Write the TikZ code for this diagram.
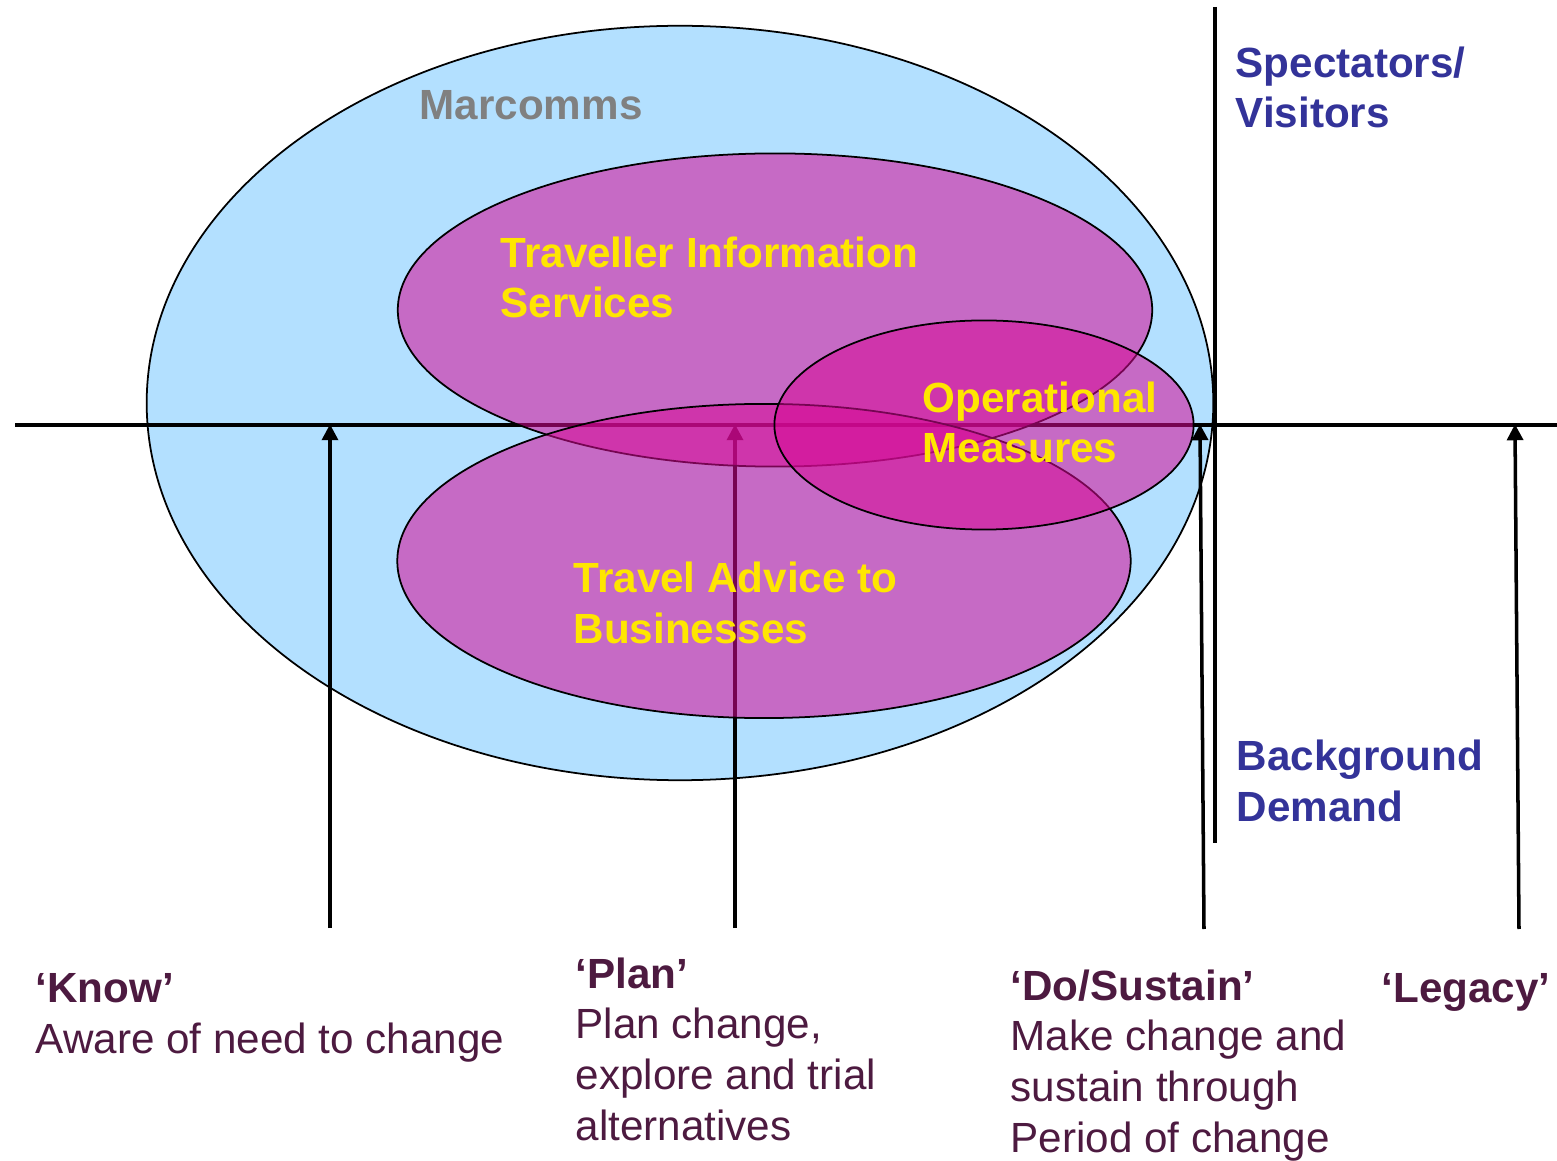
\documentclass[tikz,border=0pt]{standalone}
\usepackage{fontspec}
\setmainfont{Liberation Sans}
\usetikzlibrary{arrows.meta}

\definecolor{skyfill}{RGB}{179,224,255}
\definecolor{magfill}{RGB}{215,10,150}
\definecolor{labelyellow}{RGB}{255,230,0}
\definecolor{labelgray}{RGB}{128,128,128}
\definecolor{labelnavy}{RGB}{51,51,153}
\definecolor{labelplum}{RGB}{77,26,64}

% multi-line labels are anchored at the baseline of their last line
\tikzset{
  txt/.style={anchor=base west, inner sep=0pt, align=left,
    font=\fontsize{12}{14.4}\selectfont},
  boldtxt/.style={txt, font=\fontsize{12}{14.4}\selectfont\bfseries},
  outline/.style={draw=black, line width=0.5pt},
  group/.style={outline, fill=magfill, fill opacity=0.55},
  axis/.style={draw=black, line width=1pt},
  stage/.style={draw=black, line width=1pt,
    -{Triangle[width=0.16cm,length=0.16cm]}, shorten >=-0.5pt},
}

\begin{document}
\begin{tikzpicture}[x=0.01cm, y=-0.01cm]
\useasboundingbox (0,0) rectangle (1557,1161);

% outer Marcomms field
\path[outline, fill=skyfill] (680,403) ellipse [x radius=5.33cm, y radius=3.77cm];

% axes
\coordinate (hleft) at (15,425);
\coordinate (hright) at (1557,425);
\coordinate (vtop) at (1215,7);
\coordinate (vbot) at (1215,843);
\draw[axis] (hleft) -- (hright);
\draw[axis] (vtop) -- (vbot);

% stage arrows
\coordinate (knowfoot) at (330,928);
\coordinate (knowtip)  at (330,426);
\coordinate (planfoot) at (735,928);
\coordinate (plantip)  at (735,426);
\coordinate (dofoot)   at (1204,929);
\coordinate (dotip)    at (1200,426);
\coordinate (legfoot)  at (1519,929);
\coordinate (legtip)   at (1515,426);
\draw[stage] (knowfoot) -- (knowtip);
\draw[stage] (planfoot) -- (plantip);
\draw[stage] (dofoot) -- (dotip);
\draw[stage] (legfoot) -- (legtip);

% inner groups
\path[group] (775,310) ellipse [x radius=3.77cm, y radius=1.565cm];
\path[group] (764,561) ellipse [x radius=3.665cm, y radius=1.57cm];
\path[group] (984,425) ellipse [x radius=2.095cm, y radius=1.045cm];

% labels inside the ellipses
\node[boldtxt, text=labelgray] (marcomms) at (419,120) {Marcomms};
\node[boldtxt, text=labelyellow] (tis) at (500,318) {Traveller Information\\Services};
\node[boldtxt, text=labelyellow] (ops) at (922,463) {Operational\\Measures};
\node[boldtxt, text=labelyellow] (tab) at (573,643) {Travel Advice to\\Businesses};

% audience labels
\node[boldtxt, text=labelnavy] (spect) at (1235,128) {Spectators/\\Visitors};
\node[boldtxt, text=labelnavy] (bgd) at (1236,821) {Background\\Demand};

% stage descriptions
\node[txt, text=labelplum] (know) at (35,1053) {\textbf{‘Know’}\\Aware of need to change};
\node[txt, text=labelplum] (plan) at (575,1140) {\textbf{‘Plan’}\\Plan change,\\explore and trial\\alternatives};
\node[txt, text=labelplum] (dosus) at (1010,1152) {\textbf{‘Do/Sustain’}\\Make change and\\sustain through\\Period of change};
\node[boldtxt, text=labelplum] (legacy) at (1381,1002) {‘Legacy’};
\end{tikzpicture}
\end{document}
